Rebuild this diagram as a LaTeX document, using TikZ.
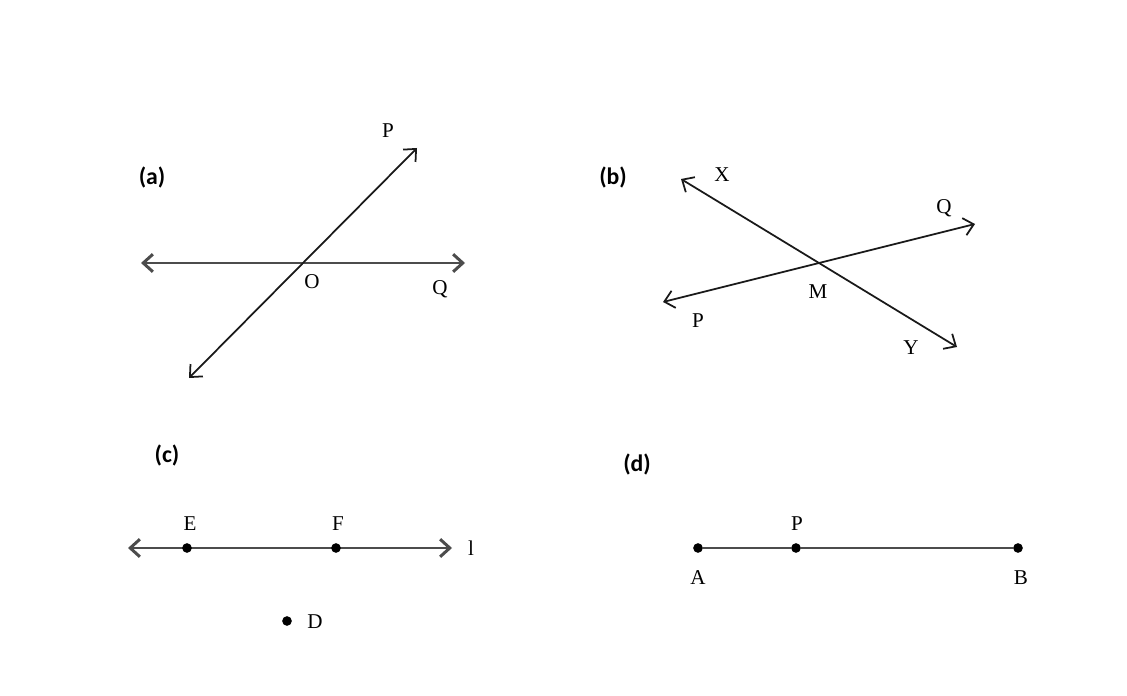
\documentclass[tikz,border=0pt]{standalone}
\usepackage{fontspec}
\setmainfont{Liberation Serif}
\newfontfamily\labfont{Carlito}
\usetikzlibrary{arrows.meta}
\begin{document}
\begin{tikzpicture}[x=0.02cm,y=-0.02cm,
  hline/.style={draw=black!70,line width=1.7pt,{Straight Barb[length=5.5pt,width=10pt]}-{Straight Barb[length=5.5pt,width=10pt]}},
  dline/.style={draw=black!90,line width=1pt,{Straight Barb[length=5.5pt,width=10pt]}-{Straight Barb[length=5.5pt,width=10pt]}},
  seg/.style={draw=black!70,line width=1.7pt},
  lbl/.style={font=\fontsize{12}{14}\selectfont,inner sep=0pt},
  part/.style={font=\labfont\bfseries\fontsize{13.5}{15}\selectfont,inner sep=0pt},
  pt/.style={circle,fill=black,inner sep=0pt,minimum size=5.5pt}]
\useasboundingbox (0,0) rectangle (1127,696);
% (a)
\node[part] (la) at (152,177) {(a)};
\coordinate (aL) at (141,263);
\coordinate (aR) at (465,263);
\coordinate (aD) at (189,378);
\coordinate (aU) at (417,148);
\draw[hline] (aL) -- (aR);
\draw[dline] (aD) -- (aU);
\node[lbl] (aO) at (312,282) {O};
\node[lbl] (aP) at (388,131) {P};
\node[lbl] (aQ) at (440,289) {Q};
% (b)
\node[part] (lb) at (613,177) {(b)};
\coordinate (bX) at (681,179);
\coordinate (bY) at (957,347);
\coordinate (bP) at (663,302);
\coordinate (bQ) at (975,224);
\draw[dline] (bX) -- (bY);
\draw[dline] (bP) -- (bQ);
\node[lbl] (bXl) at (722,175) {X};
\node[lbl] (bQl) at (944,208) {Q};
\node[lbl] (bMl) at (818,292) {M};
\node[lbl] (bPl) at (698,321) {P};
\node[lbl] (bYl) at (911,348) {Y};
% (c)
\node[part] (lc) at (167,455) {(c)};
\coordinate (cL) at (128,548);
\coordinate (cR) at (452,548);
\draw[hline] (cL) -- (cR);
\node[pt] (cE) at (187,548) {};
\node[pt] (cF) at (336,548) {};
\node[pt] (cD) at (287,621) {};
\node[lbl] (cEl) at (190,524) {E};
\node[lbl] (cFl) at (338,524) {F};
\node[lbl] (cll) at (471,548) {l};
\node[lbl] (cDl) at (315,622) {D};
% (d)
\node[part] (ld) at (637,464) {(d)};
\node[pt] (dA) at (698,548) {};
\node[pt] (dP) at (796,548) {};
\node[pt] (dB) at (1018,548) {};
\draw[seg] (dA) -- (dP) -- (dB);
\node[lbl] (dPl) at (797,524) {P};
\node[lbl] (dAl) at (698,578) {A};
\node[lbl] (dBl) at (1021,578) {B};
\end{tikzpicture}
\end{document}
